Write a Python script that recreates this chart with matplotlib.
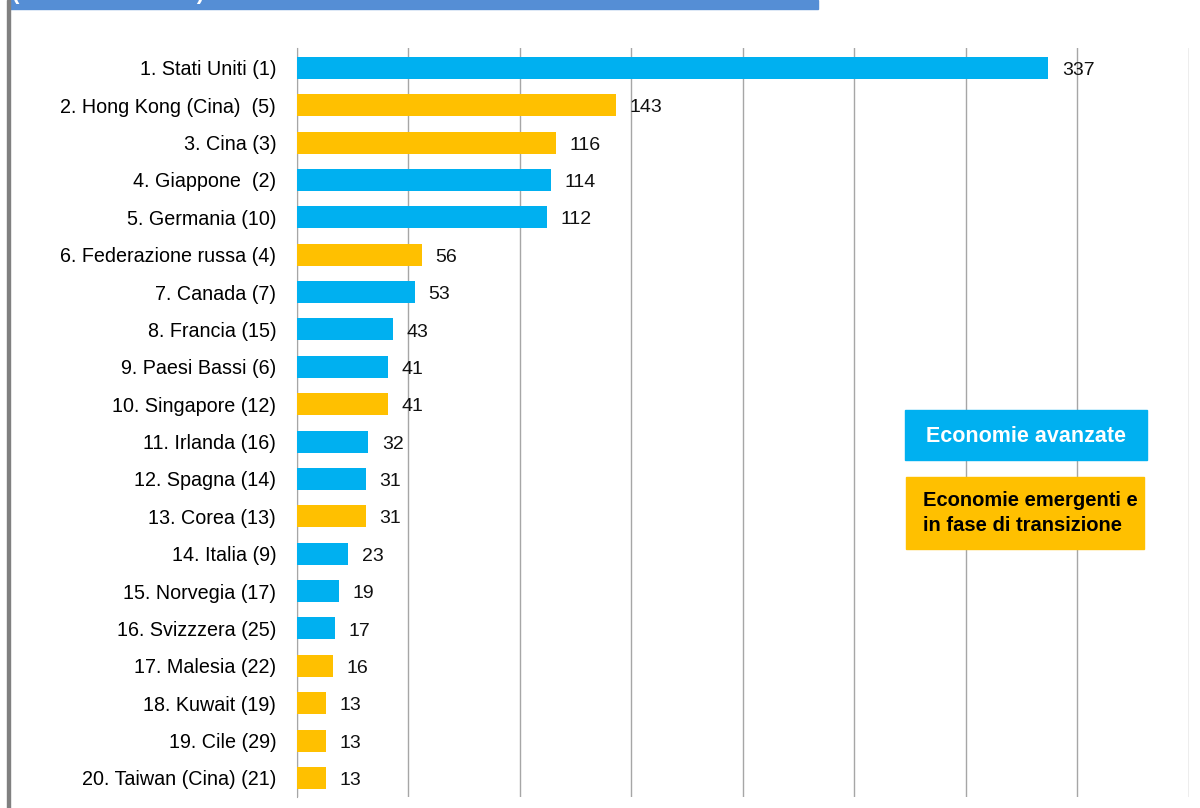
import matplotlib
matplotlib.use('Agg')
import matplotlib.pyplot as plt
from matplotlib.patches import Rectangle

plt.rcParams['font.family'] = ['Liberation Sans', 'DejaVu Sans']

countries = ['1. Stati Uniti (1)', '2. Hong Kong (Cina)  (5)', '3. Cina (3)', '4. Giappone  (2)',
             '5. Germania (10)', '6. Federazione russa (4)', '7. Canada (7)', '8. Francia (15)',
             '9. Paesi Bassi (6)', '10. Singapore (12)', '11. Irlanda (16)', '12. Spagna (14)',
             '13. Corea (13)', '14. Italia (9)', '15. Norvegia (17)', '16. Svizzzera (25)',
             '17. Malesia (22)', '18. Kuwait (19)', '19. Cile (29)', '20. Taiwan (Cina) (21)']
values = [337, 143, 116, 114, 112, 56, 53, 43, 41, 41, 32, 31, 31, 23, 19, 17, 16, 13, 13, 13]
group = ['av', 'em', 'em', 'av', 'av', 'em', 'av', 'av', 'av', 'em',
         'av', 'av', 'em', 'av', 'av', 'av', 'em', 'em', 'em', 'em']

blue = '#00B0F0'
orange = '#FFC000'
colors = [blue if g == 'av' else orange for g in group]

fig = plt.figure(figsize=(12, 8.08), dpi=100)
ax = fig.add_axes([0.2475, 0.0136, 0.7433, 0.927])

y = range(len(values))
ax.barh(y, values, height=0.59, color=colors, zorder=3)
for i, v in enumerate(values):
    ax.text(v + 6, i + 0.07, str(v), va='center', ha='left', fontsize=14, color='#111111', zorder=4)

ax.set_xlim(0, 400)
ax.set_ylim(19.51, -0.53)
ax.set_xticks(range(0, 401, 50))
ax.set_xticklabels([])
ax.set_yticks(list(y))
ax.set_yticklabels(countries, fontsize=14.2)
ax.tick_params(length=0, pad=15)
ax.grid(axis='x', color='#A6A6A6', linewidth=1)
for s in ['top', 'right', 'bottom']:
    ax.spines[s].set_visible(False)
ax.spines['left'].set_color('#A6A6A6')

# legend boxes
fig.patches.append(Rectangle((905 / 1200, 1 - 460 / 808), 242 / 1200, 50 / 808,
                             transform=fig.transFigure, color=blue, zorder=5))
fig.text(1026 / 1200, 1 - 436 / 808, 'Economie avanzate', color='white', fontsize=15.5,
         fontweight='bold', ha='center', va='center', zorder=6)
fig.patches.append(Rectangle((906 / 1200, 1 - 549 / 808), 238 / 1200, 72 / 808,
                             transform=fig.transFigure, color=orange, zorder=5))
fig.text(923 / 1200, 1 - 513 / 808, 'Economie emergenti e\nin fase di transizione', color='black',
         fontsize=14.5, fontweight='bold', ha='left', va='center', linespacing=1.45, zorder=6)

# banner and frame at top/left
fig.patches.append(Rectangle((8 / 1200, 1 - 9 / 808), 810 / 1200, 9 / 808,
                             transform=fig.transFigure, color='#558ED5', zorder=5))
fig.text(12 / 1200, 1 + 1 / 808, '(miliardi di dollari)', color='white', fontsize=16,
         fontweight='bold', ha='left', va='baseline', zorder=6)
fig.patches.append(Rectangle((7 / 1200, 0), 3 / 1200, 1,
                             transform=fig.transFigure, color='#808080', zorder=5))

fig.savefig('out.png', dpi=100)
